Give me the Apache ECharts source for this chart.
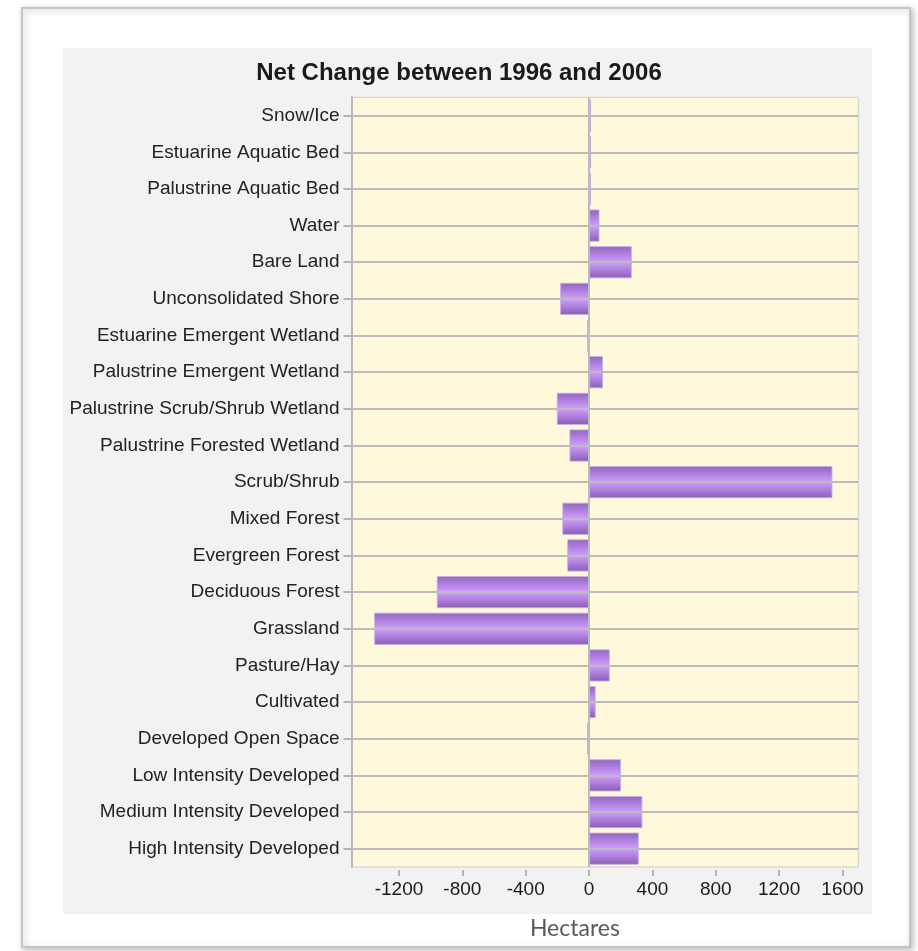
<!DOCTYPE html>
<html>
<head>
<meta charset="utf-8">
<script src="https://cdn.jsdelivr.net/npm/echarts@6/dist/echarts.min.js"></script>
<style>
html,body{margin:0;padding:0;background:#fff;}
#chart{width:918px;height:951px;}
</style>
</head>
<body>
<div id="chart"></div>
<script>
var titleText = 'Net Change between 1996 and 2006';
var axisName = 'Hectares';
var categories = ['Snow/Ice','Estuarine Aquatic Bed','Palustrine Aquatic Bed','Water','Bare Land','Unconsolidated Shore','Estuarine Emergent Wetland','Palustrine Emergent Wetland','Palustrine Scrub/Shrub Wetland','Palustrine Forested Wetland','Scrub/Shrub','Mixed Forest','Evergreen Forest','Deciduous Forest','Grassland','Pasture/Hay','Cultivated','Developed Open Space','Low Intensity Developed','Medium Intensity Developed','High Intensity Developed'];
var netChange = [5, 4, 4, 66, 270, -183, -6, 88, -204, -124, 1537, -169, -138, -962, -1357, 131, 42, -5, 202, 337, 314];
var tickValues = [-1200, -800, -400, 0, 400, 800, 1200, 1600];

var chart = echarts.init(document.getElementById('chart'), null, {renderer: 'canvas'});

var gridLines = categories.map(function (c) { return {yAxis: c}; });
gridLines.push({xAxis: 0});

var option = {
  animation: false,
  backgroundColor: '#ffffff',
  graphic: [
    {type: 'rect', z: -20, silent: true,
     shape: {x: 22, y: 8, width: 888, height: 939},
     style: {fill: '#ffffff', stroke: '#c4c4c4', lineWidth: 2,
             shadowBlur: 6, shadowColor: 'rgba(0,0,0,0.25)', shadowOffsetX: 2, shadowOffsetY: 2}},
    {type: 'rect', z: -19, silent: true,
     shape: {x: 63, y: 48, width: 809, height: 866},
     style: {fill: '#f2f2f2'}}
  ],
  title: {
    text: titleText,
    left: 'center',
    top: 61,
    padding: 0,
    textStyle: {fontFamily: 'Liberation Sans', fontSize: 24, fontWeight: 'bold', color: '#1a1a1a'}
  },
  grid: {
    left: 351.5, right: 59.7, top: 97.3, bottom: 84,
    show: true, backgroundColor: '#fff8da', borderColor: '#cfcfcf', borderWidth: 1,
    containLabel: false
  },
  xAxis: {
    type: 'value',
    min: -1500, max: 1700,
    offset: 3,
    axisLine: {show: false},
    axisTick: {show: true, customValues: tickValues, length: 6, lineStyle: {color: '#a0a0a0', width: 1.5}},
    axisLabel: {customValues: tickValues, formatter: function (v) { return String(v); },
                fontFamily: 'Liberation Sans', fontSize: 19, color: '#1a1a1a', margin: 10},
    splitLine: {show: false},
    name: axisName,
    nameLocation: 'middle',
    nameGap: 47,
    nameTextStyle: {fontFamily: 'Lato', fontSize: 23, color: '#595959', padding: [0, 60, 0, 0]}
  },
  yAxis: {
    type: 'category',
    data: categories,
    inverse: true,
    axisLine: {show: true, onZero: false, lineStyle: {color: '#b8b8b8', width: 2}},
    axisTick: {show: true, alignWithLabel: true, length: 8, lineStyle: {color: '#a0a0a0', width: 1.5}},
    axisLabel: {fontFamily: 'Liberation Sans', fontSize: 19, color: '#222222', margin: 12},
    splitLine: {show: false}
  },
  series: [
    {
      type: 'scatter',
      data: [],
      z: 1,
      silent: true,
      markLine: {
        silent: true,
        symbol: ['none', 'none'],
        label: {show: false},
        lineStyle: {color: '#bcbcbc', width: 2, type: 'solid'},
        emphasis: {disabled: true},
        data: gridLines
      }
    },
    {
      type: 'bar',
      name: 'Net Change',
      data: netChange,
      z: 3,
      barCategoryGap: '12%',
      barMinHeight: 2,
      itemStyle: {
        color: new echarts.graphic.LinearGradient(0, 0, 0, 1, [
          {offset: 0, color: '#9264c0'},
          {offset: 0.5, color: '#cf9dff'},
          {offset: 1, color: '#8a5db4'}
        ]),
        borderColor: 'rgba(196,176,226,0.9)',
        borderWidth: 1
      }
    }
  ]
};
chart.setOption(option);
</script>
</body>
</html>
